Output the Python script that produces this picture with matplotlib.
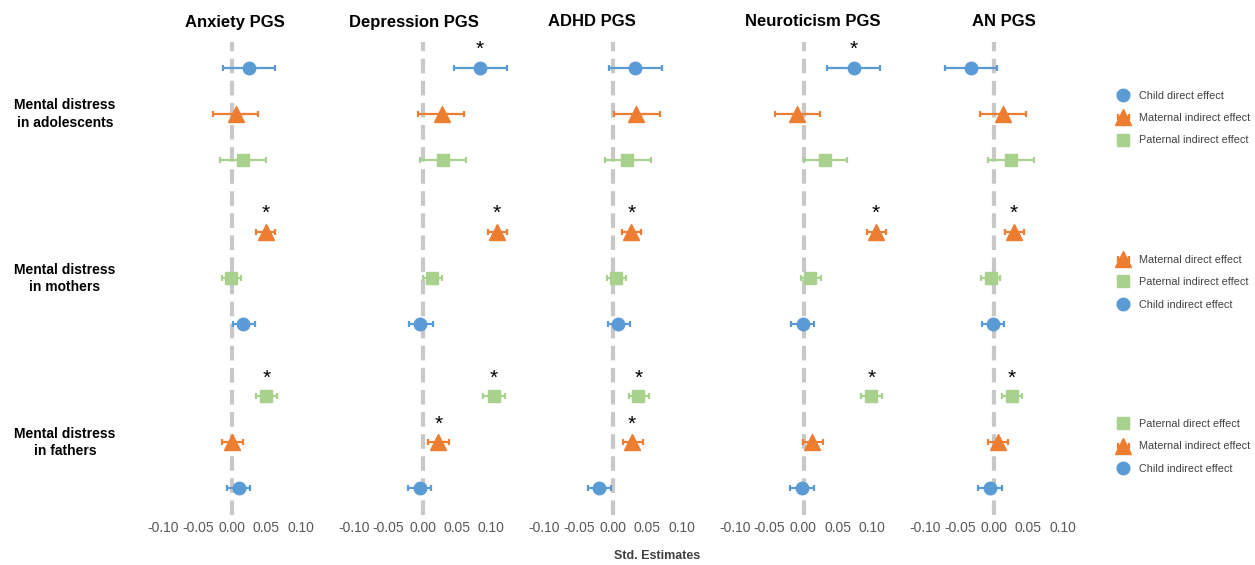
import matplotlib
matplotlib.use("Agg")
import matplotlib.pyplot as plt

plt.rcParams['font.family'] = ['Liberation Sans', 'DejaVu Sans']

pgs_titles = ["Anxiety PGS", "Depression PGS", "ADHD PGS", "Neuroticism PGS", "AN PGS"]
outcome_labels = ["Mental distress\nin adolescents", "Mental distress\nin mothers", "Mental distress\nin fathers"]
effect_labels = [
    "Child direct effect", "Maternal indirect effect", "Paternal indirect effect",
    "Maternal direct effect", "Paternal indirect effect", "Child indirect effect",
    "Paternal direct effect", "Maternal indirect effect", "Child indirect effect",
]
effect_kind = ["child", "mother", "father", "mother", "father", "child", "father", "mother", "child"]
xticks = [-0.10, -0.05, 0.00, 0.05, 0.10]

anxiety_est = [0.025, 0.006, 0.016, 0.049, -0.001, 0.016, 0.050, 0.000, 0.010]
anxiety_lo = [-0.013, -0.028, -0.018, 0.035, -0.015, 0.001, 0.035, -0.015, -0.007]
anxiety_hi = [0.063, 0.038, 0.049, 0.063, 0.013, 0.034, 0.065, 0.016, 0.026]
anxiety_sig = [0, 0, 0, 1, 0, 0, 1, 0, 0]

depression_est = [0.084, 0.028, 0.030, 0.109, 0.014, -0.003, 0.104, 0.023, -0.004]
depression_lo = [0.046, -0.007, -0.003, 0.095, 0.000, -0.019, 0.089, 0.008, -0.021]
depression_hi = [0.123, 0.060, 0.063, 0.123, 0.029, 0.015, 0.120, 0.039, 0.013]
depression_sig = [1, 0, 0, 1, 0, 0, 1, 1, 0]

adhd_est = [0.032, 0.034, 0.021, 0.027, 0.004, 0.007, 0.037, 0.028, -0.020]
adhd_lo = [-0.006, 0.001, -0.012, 0.013, -0.009, -0.008, 0.023, 0.014, -0.036]
adhd_hi = [0.071, 0.068, 0.055, 0.041, 0.019, 0.025, 0.053, 0.044, -0.003]
adhd_sig = [0, 0, 0, 1, 0, 0, 1, 1, 0]

neuro_est = [0.073, -0.009, 0.031, 0.106, 0.010, -0.001, 0.099, 0.013, -0.002]
neuro_lo = [0.035, -0.041, 0.000, 0.092, -0.003, -0.018, 0.084, -0.001, -0.019]
neuro_hi = [0.111, 0.024, 0.064, 0.120, 0.025, 0.016, 0.114, 0.029, 0.015]
neuro_sig = [1, 0, 0, 1, 0, 0, 1, 0, 0]

an_est = [-0.034, 0.013, 0.025, 0.029, -0.005, -0.001, 0.026, 0.006, -0.006]
an_lo = [-0.072, -0.021, -0.009, 0.016, -0.019, -0.017, 0.011, -0.009, -0.023]
an_hi = [0.004, 0.046, 0.058, 0.044, 0.009, 0.015, 0.041, 0.021, 0.011]
an_sig = [0, 0, 0, 1, 0, 0, 1, 0, 0]

panels = [
    (anxiety_est, anxiety_lo, anxiety_hi, anxiety_sig),
    (depression_est, depression_lo, depression_hi, depression_sig),
    (adhd_est, adhd_lo, adhd_hi, adhd_sig),
    (neuro_est, neuro_lo, neuro_hi, neuro_sig),
    (an_est, an_lo, an_hi, an_sig),
]

styles = {
    "child": dict(marker="o", color="#5B9BD5", ms=9),
    "mother": dict(marker="^", color="#ED7D31", ms=11),
    "father": dict(marker="s", color="#A9D18E", ms=8.5),
}

# row positions: 3 rows per outcome block, extra gap between blocks
gap = 0.57
rows = [i + gap * (i // 3) for i in range(9)]

W, H = 1255, 565
fig = plt.figure(figsize=(W / 100, H / 100), dpi=100)

xlim = (-0.125, 0.125)
ppu = 685
ax_w = (xlim[1] - xlim[0]) * ppu
top_px, bot_px = 42, 515
title_x = [0.518, 0.451, 0.378, 0.556, 0.559]

axes = []
for p, (est, lo, hi, sig) in enumerate(panels):
    zero_px = 232 + 190.5 * p
    left = zero_px - (0 - xlim[0]) * ppu
    ax = fig.add_axes([left / W, 1 - bot_px / H, ax_w / W, (bot_px - top_px) / H])
    axes.append(ax)
    ax.axvline(0, color="#C8C8C8", lw=3, dashes=(3.5, 1.8), zorder=0)
    handles = []
    for r in range(9):
        st = styles[effect_kind[r]]
        h = ax.errorbar(est[r], rows[r], xerr=[[est[r] - lo[r]], [hi[r] - est[r]]],
                        fmt=st["marker"], color=st["color"], ms=st["ms"], mec=st["color"],
                        elinewidth=1.6, capsize=2.2, capthick=1.6, zorder=3)
        handles.append(h)
        if sig[r]:
            ax.text(est[r], rows[r] - 0.4, "*", ha="center", va="center", fontsize=15, color="black")
    ax.set_xlim(*xlim)
    ax.set_ylim(rows[-1] + 0.58, -0.565)
    ax.set_xticks(xticks)
    ax.set_xticklabels([f"{t:.2f}" for t in xticks])
    ax.tick_params(axis="x", length=0, pad=4, labelsize=10, labelcolor="#595959")
    ax.set_yticks([])
    for s in ax.spines.values():
        s.set_visible(False)
    ax.text(title_x[p], 1 + 20 / (bot_px - top_px), pgs_titles[p], transform=ax.transAxes,
            ha="center", va="center", fontsize=12, fontweight="bold")
    if p == 0:
        legend_handles = handles

# outcome labels and legends for each block
for b in range(3):
    mid = rows[3 * b + 1]
    y_px = top_px + (mid + 0.565) / (rows[-1] + 0.58 + 0.565) * (bot_px - top_px)
    fig.text(65 / W, 1 - y_px / H, outcome_labels[b], ha="center", va="center",
             fontsize=10, fontweight="bold", linespacing=1.3)
    leg = fig.legend(legend_handles[3 * b:3 * b + 3], effect_labels[3 * b:3 * b + 3],
                     loc="center left", bbox_to_anchor=(1109 / W, 1 - (y_px + 4) / H),
                     frameon=False, fontsize=7.8, handlelength=1.6, handletextpad=0.7,
                     labelspacing=1.15, borderpad=0)
    for t in leg.get_texts():
        t.set_color("#404040")

fig.text(657 / W, 1 - 556 / H, "Std. Estimates", ha="center", va="center",
         fontsize=9, fontweight="bold", color="#404040")

fig.savefig("out.png", dpi=100)
